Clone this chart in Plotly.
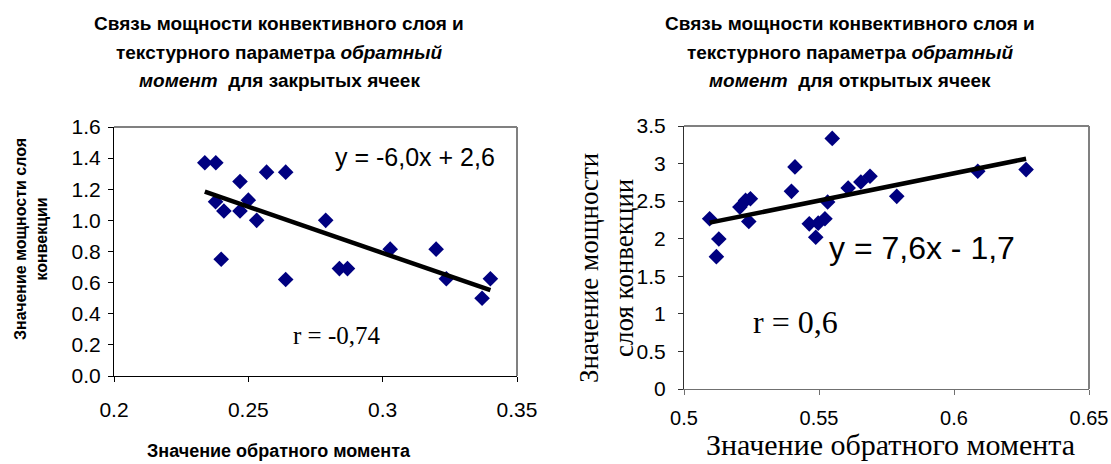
import numpy as np
import plotly.graph_objects as go

# ---- data: closed cells (left chart) ----
closed_x = [0.2338, 0.2379, 0.2568, 0.2639, 0.2469, 0.2378, 0.2500, 0.2409, 0.2469, 0.2531,
            0.2788, 0.2399, 0.2639, 0.2839, 0.2869, 0.3028, 0.3199, 0.3237, 0.3370, 0.3401]
closed_y = [1.37, 1.37, 1.31, 1.31, 1.25, 1.12, 1.13, 1.06, 1.06, 1.00,
            1.00, 0.75, 0.62, 0.69, 0.69, 0.815, 0.815, 0.625, 0.50, 0.625]

# ---- data: open cells (right chart) ----
open_x = [0.5095, 0.5129, 0.5120, 0.5207, 0.5228, 0.5246, 0.5240, 0.5398, 0.5411, 0.5464, 0.5488,
          0.5497, 0.5522, 0.5532, 0.5549, 0.5608, 0.5655, 0.5689, 0.5788, 0.6088, 0.6267]
open_y = [2.265, 1.997, 1.761, 2.421, 2.51, 2.532, 2.229, 2.63, 2.956, 2.198, 2.02,
          2.207, 2.265, 2.488, 3.335, 2.675, 2.755, 2.831, 2.564, 2.898, 2.92]

left_xticks = [0.2, 0.25, 0.3, 0.35]
left_yticks = [0.0, 0.2, 0.4, 0.6, 0.8, 1.0, 1.2, 1.4, 1.6]
right_xticks = [0.5, 0.55, 0.6, 0.65]
right_yticks = [0, 0.5, 1, 1.5, 2, 2.5, 3, 3.5]

left_title = ["Связь мощности конвективного слоя и",
              "текстурного параметра <i>обратный</i>",
              "<i>момент</i>  для закрытых ячеек"]
right_title = ["Связь мощности конвективного слоя и",
               "текстурного параметра <i>обратный</i>",
               "<i>момент</i>  для открытых ячеек"]
left_eq = "y = -6,0x + 2,6"
left_r = "r = -0,74"
right_eq = "y = 7,6x - 1,7"
right_r = "r = 0,6"
x_title = "Значение обратного момента"
left_ytitle = "Значение мощности слоя<br>конвекции"
right_ytitle = "Значение мощности<br>слоя конвекции"

W, H = 1111, 464
def px(x): return x / W
def py(y): return 1 - y / H

NAVY = "#000080"
SANS = "Liberation Sans, Arial, sans-serif"
SERIF = "Liberation Serif, Times New Roman, serif"

fig = go.Figure()

def trend(xs, ys):
    k, b = np.polyfit(xs, ys, 1)
    tx = [min(xs), max(xs)]
    return tx, [k * t + b for t in tx]

for xs, ys, xa, ya in [(closed_x, closed_y, "x", "y"), (open_x, open_y, "x2", "y2")]:
    fig.add_trace(go.Scatter(x=xs, y=ys, mode="markers", xaxis=xa, yaxis=ya,
                             marker=dict(symbol="diamond", size=12, color=NAVY,
                                         line=dict(width=0)),
                             showlegend=False, cliponaxis=False))
    tx, ty = trend(xs, ys)
    fig.add_trace(go.Scatter(x=tx, y=ty, mode="lines", xaxis=xa, yaxis=ya,
                             line=dict(color="black", width=4.5), showlegend=False))

L = dict(x0=114, x1=517, y0=127, y1=376)
R = dict(x0=684, x1=1089, y0=126, y1=389)

def axis(color="black", size=21, **kw):
    d = dict(showgrid=False, zeroline=False, showline=True, linecolor=color,
             linewidth=1, ticks="outside", ticklen=5, tickcolor=color, automargin=False,
             tickangle=0, tickfont=dict(family=SANS, size=size, color="black"))
    d.update(kw)
    return d

fig.update_layout(
    width=W, height=H, margin=dict(l=0, r=0, t=0, b=0, autoexpand=False),
    paper_bgcolor="white", plot_bgcolor="white",
    xaxis=axis(domain=[px(L["x0"]), px(L["x1"])], range=[0.2, 0.35], tickvals=left_xticks,
               anchor="y", ticklabelstandoff=10),
    yaxis=axis(domain=[py(L["y1"]), py(L["y0"])], range=[0, 1.6], tickvals=left_yticks,
               tickformat=".1f", anchor="x", ticklabelstandoff=3),
    xaxis2=axis(color="#707070", size=20, domain=[px(R["x0"]), px(R["x1"])], range=[0.5, 0.65],
                tickvals=right_xticks, anchor="y2", ticklabelstandoff=6),
    yaxis2=axis(color="#303030", domain=[py(R["y1"]), py(R["y0"])], range=[0, 3.5],
                tickvals=right_yticks, anchor="x2", ticklabelstandoff=8),
)

# gray frame (top & right)
for B in (L, R):
    fig.add_shape(type="line", xref="paper", yref="paper", x0=px(B["x0"]), x1=px(B["x1"]),
                  y0=py(B["y0"]), y1=py(B["y0"]), line=dict(color="#808080", width=2))
    fig.add_shape(type="line", xref="paper", yref="paper", x0=px(B["x1"]), x1=px(B["x1"]),
                  y0=py(B["y0"]), y1=py(B["y1"]), line=dict(color="#808080", width=2))

def ann(text, x, y, size, family=SANS, angle=0, bold=False, align="center"):
    if bold:
        text = "<b>" + text + "</b>"
    fig.add_annotation(text=text, xref="paper", yref="paper", x=px(x), y=py(y),
                       xanchor="center", yanchor="middle", showarrow=False, textangle=angle,
                       align=align, font=dict(family=family, size=size, color="black"))

for i, line in enumerate(left_title):
    ann(line, 279, 24 + 28.5 * i, 19, bold=True)
for i, line in enumerate(right_title):
    ann(line, 850, 24 + 28.5 * i, 19, bold=True)

ann(left_eq, 415, 157, 25)
ann(left_r, 337, 335, 25, family=SERIF)
ann(right_eq, 922, 248, 32)
ann(right_r, 795, 322, 32, family=SERIF)

ann(x_title, 279, 451, 18, bold=True)
ann(x_title, 890, 444, 30, family=SERIF)

ann(left_ytitle, 31, 239, 16, bold=True, angle=-90)
ann(right_ytitle, 606, 268, 27, family=SERIF, angle=-90)

fig.write_html("out.html", config={"displayModeBar": False},
               post_script="document.body.style.margin='0';document.body.style.overflow='hidden';")
